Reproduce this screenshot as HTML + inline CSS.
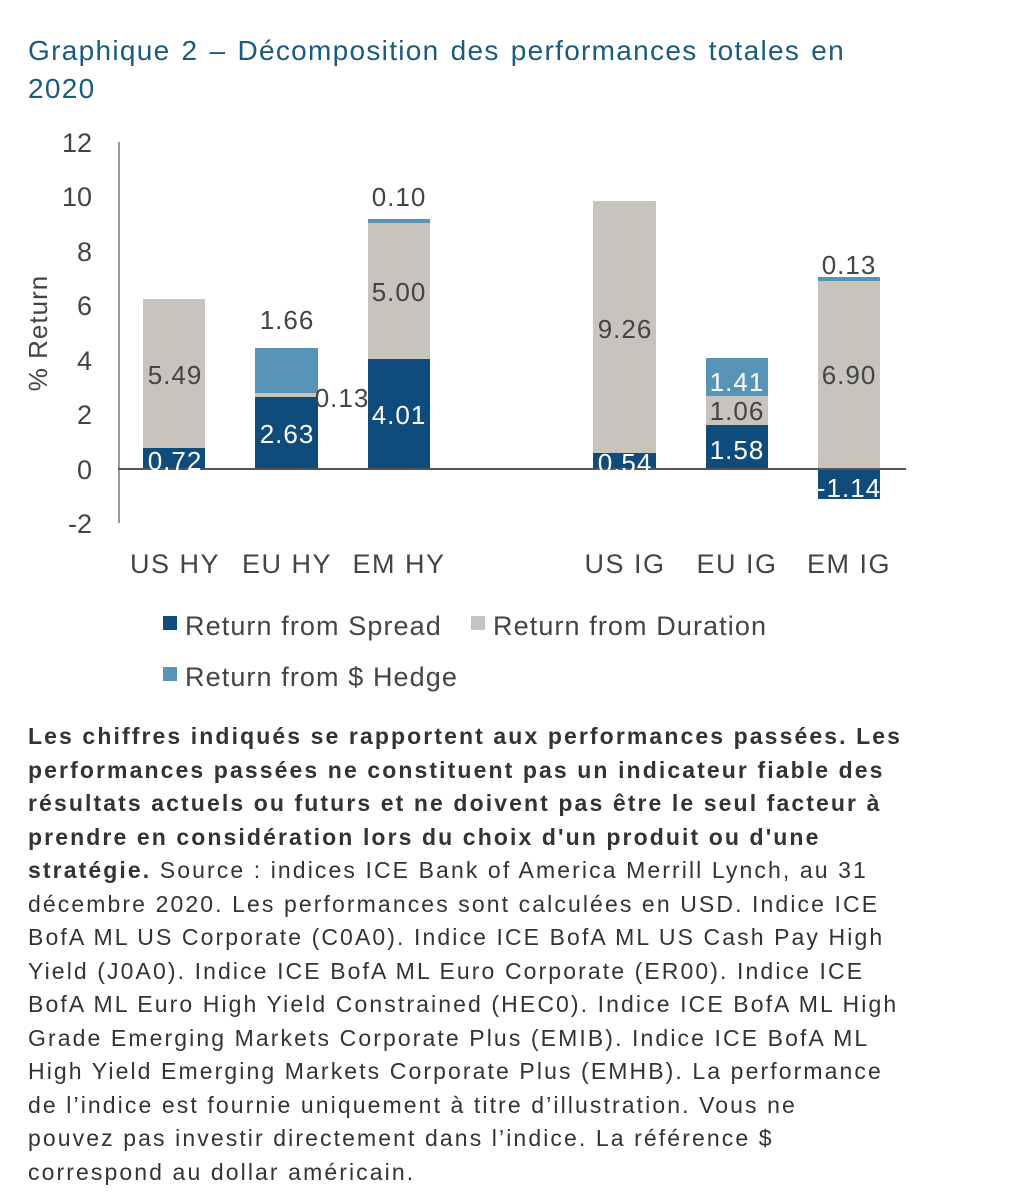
<!DOCTYPE html>
<html><head><meta charset="utf-8"><style>
body{margin:0;background:#fff;width:1016px;height:1200px;overflow:hidden;font-family:"Liberation Sans",sans-serif;}
.title{position:absolute;left:28px;top:32px;font-size:28px;line-height:38px;color:#1a5b7e;letter-spacing:1.3px;word-spacing:2px;white-space:nowrap;}
.note{position:absolute;left:28px;top:720px;width:980px;font-size:23px;line-height:33.5px;color:#333;letter-spacing:2.1px;white-space:nowrap;}
svg{position:absolute;left:0;top:0;}
</style></head><body>
<div class="title">Graphique 2 – Décomposition des performances totales en<br>2020</div>
<svg width="1016" height="700" font-family="Liberation Sans, sans-serif">
<g font-size="27" fill="#444" text-anchor="end">
<text x="92" y="152">12</text><text x="92" y="206">10</text><text x="92" y="261">8</text>
<text x="92" y="315">6</text><text x="92" y="370">4</text><text x="92" y="424">2</text>
<text x="92" y="479">0</text><text x="92" y="533">-2</text>
</g>
<text transform="translate(47,333) rotate(-90)" font-size="26" fill="#444" text-anchor="middle" letter-spacing="1">% Return</text>
<line x1="119" y1="142" x2="119" y2="523" stroke="#999" stroke-width="2"/>
<rect x="143" y="299" width="62" height="149" fill="#c7c3bd"/><rect x="143" y="448" width="62" height="20" fill="#0f4c7c"/>
<rect x="255" y="348" width="63" height="45" fill="#5893b8"/><rect x="255" y="393" width="63" height="4" fill="#c7c3bd"/><rect x="255" y="397" width="63" height="71" fill="#0f4c7c"/>
<rect x="368" y="219" width="62" height="4" fill="#5893b8"/><rect x="368" y="223" width="62" height="136" fill="#c7c3bd"/><rect x="368" y="359" width="62" height="109" fill="#0f4c7c"/>
<rect x="593" y="201" width="63" height="252" fill="#c7c3bd"/><rect x="593" y="453" width="63" height="15" fill="#0f4c7c"/>
<rect x="706" y="358" width="62" height="38" fill="#5893b8"/><rect x="706" y="396" width="62" height="29" fill="#c7c3bd"/><rect x="706" y="425" width="62" height="43" fill="#0f4c7c"/>
<rect x="818" y="277" width="62" height="4" fill="#5893b8"/><rect x="818" y="281" width="62" height="187" fill="#c7c3bd"/><rect x="818" y="468" width="62" height="31" fill="#0f4c7c"/>
<line x1="118" y1="469" x2="906" y2="469" stroke="#555" stroke-width="2"/>
<g font-size="26" fill="#444" text-anchor="middle" letter-spacing="1">
<text x="175" y="384">5.49</text><text x="342" y="407">0.13</text><text x="287" y="329">1.66</text>
<text x="399" y="206">0.10</text><text x="399" y="301">5.00</text><text x="625" y="338">9.26</text>
<text x="737" y="420">1.06</text><text x="849" y="274">0.13</text><text x="849" y="384">6.90</text>
</g>
<g font-size="26" fill="#fff" text-anchor="middle" letter-spacing="1">
<text x="175" y="470">0.72</text><text x="287" y="443">2.63</text><text x="399" y="424">4.01</text>
<text x="625" y="472">0.54</text><text x="737" y="391">1.41</text><text x="737" y="459">1.58</text><text x="849" y="497">-1.14</text>
</g>
<g font-size="27" fill="#444" text-anchor="middle" letter-spacing="1.5">
<text x="175" y="573">US HY</text><text x="287" y="573">EU HY</text><text x="399" y="573">EM HY</text>
<text x="625" y="573">US IG</text><text x="737" y="573">EU IG</text><text x="849" y="573">EM IG</text>
</g>
<g font-size="27" fill="#444" letter-spacing="1.1">
<rect x="163" y="616" width="14" height="14" fill="#0f4c7c"/>
<text x="185" y="635">Return from Spread</text>
<rect x="471" y="616" width="14" height="14" fill="#c7c3bd"/>
<text x="493" y="635">Return from Duration</text>
<rect x="163" y="667" width="14" height="14" fill="#5893b8"/>
<text x="185" y="686">Return from $ Hedge</text>
</g>
</svg>
<div class="note"><b>Les chiffres indiqués se rapportent aux performances passées. Les<br>performances passées ne constituent pas un indicateur fiable des<br>résultats actuels ou futurs et ne doivent pas être le seul facteur à<br>prendre en considération lors du choix d'un produit ou d'une<br>stratégie.</b> Source : indices ICE Bank of America Merrill Lynch, au 31<br>décembre 2020. Les performances sont calculées en USD. Indice ICE<br>BofA ML US Corporate (C0A0). Indice ICE BofA ML US Cash Pay High<br>Yield (J0A0). Indice ICE BofA ML Euro Corporate (ER00). Indice ICE<br>BofA ML Euro High Yield Constrained (HEC0). Indice ICE BofA ML High<br>Grade Emerging Markets Corporate Plus (EMIB). Indice ICE BofA ML<br>High Yield Emerging Markets Corporate Plus (EMHB). La performance<br>de l’indice est fournie uniquement à titre d’illustration. Vous ne<br>pouvez pas investir directement dans l’indice. La référence $<br>correspond au dollar américain.</div>
</body></html>
